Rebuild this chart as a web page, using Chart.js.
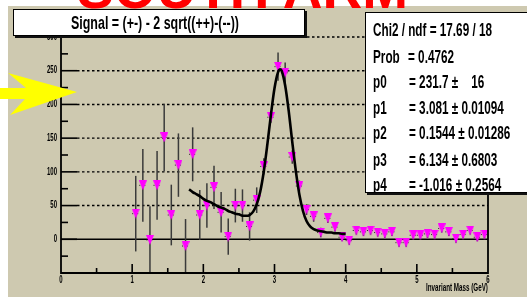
<!DOCTYPE html>
<html><head><meta charset="utf-8">
<script src="https://cdn.jsdelivr.net/npm/chart.js@4.4.1/dist/chart.umd.min.js"></script>
<style>
html,body{margin:0;padding:0;background:#fff;}
body{width:527px;height:297px;overflow:hidden;position:relative;font-family:"Liberation Sans",Arial,sans-serif;}
#bg{position:absolute;left:8px;top:6px;width:519px;height:291px;background:#CEC9B0;}
#red{position:absolute;left:77px;top:-38px;font:bold 55px "Liberation Sans",Arial,sans-serif;color:#f00;line-height:55px;white-space:nowrap;}
#c{position:absolute;left:0;top:0;}
.box{position:absolute;background:#fff;border:1px solid #000;box-shadow:2px 2px 0 #111;overflow:hidden;}
.t{position:absolute;white-space:pre;font-weight:bold;color:#000;transform-origin:0 50%;line-height:20px;font-size:18px;}
#title{left:13px;top:9px;width:290px;height:25px;}
#stats{left:365px;top:12px;width:200px;height:179px;}
#xtitle{position:absolute;right:39px;top:282px;font:bold 10px "Liberation Sans",Arial,sans-serif;line-height:12px;white-space:pre;transform-origin:100% 50%;color:#000;}
#arrow{position:absolute;left:0;top:0;}
</style></head>
<body>
<div id="bg"></div>
<div id="red">SOUTH ARM</div>
<canvas id="c" width="527" height="297"></canvas>
<div class="box" id="title"><div class="t" id="ttext" style="left:57px;top:2px;font-size:19px;line-height:22px;">Signal = (+-) - 2 sqrt((++)-(--))</div></div>
<div class="box" id="stats">
<div class="t s" id="chi" style="left:7px;top:7px;">Chi2 / ndf = 17.69 / 18</div>
<div class="t s" style="left:7px;top:34px;">Prob</div><div class="t s" style="left:42px;top:34px;">= 0.4762</div>
<div class="t s" style="left:7px;top:59px;">p0</div><div class="t s" style="left:43px;top:59px;">= 231.7 ±    16</div>
<div class="t s" style="left:7px;top:85px;">p1</div><div class="t s" style="left:43px;top:85px;">= 3.081 ± 0.01094</div>
<div class="t s" style="left:7px;top:110px;">p2</div><div class="t s" style="left:43px;top:110px;">= 0.1544 ± 0.01286</div>
<div class="t s" style="left:7px;top:137px;">p3</div><div class="t s" style="left:43px;top:137px;">= 6.134 ± 0.6803</div>
<div class="t s" style="left:7px;top:162px;">p4</div><div class="t s" style="left:43px;top:162px;">= -1.016 ± 0.2564</div>
</div>
<div id="xtitle">Invariant Mass (GeV)</div>
<svg id="arrow" width="90" height="130"><polygon points="0,88 26,88 8,73 77,92 10,115 25,99 0,99" fill="#FFFF00"/></svg>
<script>
// ---- data ----
const xBins = [1.05,1.15,1.25,1.35,1.45,1.55,1.65,1.75,1.85,1.95,2.05,2.15,2.25,2.35,2.45,2.55,2.65,2.75,2.85,2.95,3.05,3.15,3.25,3.35,3.45,3.55,3.65,3.75,3.85,3.95,4.05,4.15,4.25,4.35,4.45,4.55,4.65,4.75,4.85,4.95,5.05,5.15,5.25,5.35,5.45,5.55,5.65,5.75,5.85,5.95];
const signal = [38,80,-1,80,151,36,110,-10,126,36,50,77,40,4,50,50,19,58,108,181,256,247,122,79,44,34,10,31,18,3,-2,13,11,13,10,8,11,-5,-5,6,6,8,7,16,11,1,7,13,3,7];
const sigErr = [56,54,50,51,50,45,47,40,40,37,33,32,30,27,25,24,21,19,12,8,21,15,10,8,8,8,7,7,7,6,6,6,6,6,6,6,6,6,6,6,6,6,6,6,6,6,6,6,6,6];
const fitX = [1.80,1.85,1.90,1.95,2.00,2.05,2.10,2.15,2.20,2.25,2.30,2.35,2.40,2.45,2.50,2.55,2.60,2.65,2.70,2.75,2.80,2.85,2.90,2.95,3.00,3.05,3.08,3.10,3.15,3.20,3.25,3.30,3.35,3.40,3.45,3.50,3.55,3.60,3.65,3.70,3.75,3.80,3.85,3.90,3.95,4.00];
const fitY = [74,70,67,64,60,57,55,52,49,47,45,42,40,38,37,35,35,36,41,52,71,101,141,185,224,248,252,250,228,190,144,101,66,42,27,19,15,13,12,11,10,10,9,9,8,8];
const xTickVals = [0,1,2,3,4,5,6];
const xTickLabels = ['0','1','2','3','4','5','6'];
const yTickVals = [0,50,100,150,200,250,300];
const yTickLabels = ['0','50','100','150','200','250','300'];

// ---- text condensing (reference font is a narrow face) ----
function natW(el){return el.getBoundingClientRect().width;}
const tt=document.getElementById('ttext'); tt.style.transform='scaleX('+(168/natW(tt))+')';
const chi=document.getElementById('chi'); const s=119/natW(chi);
document.querySelectorAll('.s').forEach(e=>e.style.transform='scaleX('+s+')');
const xt=document.getElementById('xtitle'); xt.style.transform='scaleX('+(62/natW(xt))+')';

// ---- marker: narrow downward triangle ----
const mk=document.createElement('canvas'); mk.width=8; mk.height=10;
{const m=mk.getContext('2d'); m.fillStyle='#FF00FF'; m.beginPath(); m.moveTo(0,0); m.lineTo(8,0); m.lineTo(4,10); m.closePath(); m.fill();}

const FONT='bold 10px "Liberation Sans", Arial, sans-serif';
function seg(ctx,x1,y1,x2,y2){ctx.beginPath();ctx.moveTo(x1,y1);ctx.lineTo(x2,y2);ctx.stroke();}

const rootAxes={
  id:'rootAxes',
  beforeDatasetsDraw(chart){
    const ctx=chart.ctx, a=chart.chartArea, x=chart.scales.x, y=chart.scales.y;
    ctx.save();
    ctx.strokeStyle='#000'; ctx.lineWidth=1.4; ctx.setLineDash([2.5,2.5]);
    for(let v=50; v<=300; v+=50){ const py=y.getPixelForValue(v); seg(ctx,a.left+16,py,a.right,py); }
    ctx.setLineDash([]); ctx.lineWidth=1.5;
    const y0=y.getPixelForValue(0); seg(ctx,a.left,y0,a.right,y0);
    ctx.beginPath(); ctx.rect(a.left,a.top,a.right-a.left,a.bottom-a.top); ctx.clip();
    ctx.strokeStyle='#3a3a3a'; ctx.lineWidth=1.5;
    xBins.forEach((xv,i)=>{const px=x.getPixelForValue(xv); seg(ctx,px,y.getPixelForValue(signal[i]+sigErr[i]),px,y.getPixelForValue(signal[i]-sigErr[i]));});
    ctx.strokeStyle='#222'; ctx.lineWidth=1; ctx.setLineDash([1,1.5]);
    xBins.forEach((xv,i)=>{const py=y.getPixelForValue(signal[i]); seg(ctx,x.getPixelForValue(xv-0.05),py,x.getPixelForValue(xv+0.05),py);});
    ctx.restore();
  },
  afterDatasetsDraw(chart){
    const ctx=chart.ctx, a=chart.chartArea, x=chart.scales.x, y=chart.scales.y;
    ctx.save();
    ctx.strokeStyle='#000'; ctx.lineWidth=1.8;
    seg(ctx,a.left,a.top,a.left,a.bottom+1);
    seg(ctx,a.left,a.bottom,a.right,a.bottom);
    seg(ctx,a.right,a.top,a.right,a.bottom+1);
    ctx.lineWidth=1.6;
    for(let v=-25; v<300; v+=25){ const py=y.getPixelForValue(v); const major=(v%50===0); seg(ctx,a.left,py,a.left+(major?16:7),py); }
    for(let v=0.5; v<6; v+=0.5){ const px=x.getPixelForValue(v); const major=Math.abs(v-Math.round(v))<1e-6; seg(ctx,px,a.bottom,px,a.bottom-(major?9:5)); }
    ctx.fillStyle='#000'; ctx.font=FONT; ctx.textBaseline='middle';
    yTickVals.forEach((v,i)=>{ const py=y.getPixelForValue(v); ctx.save(); ctx.translate(a.left-4,py); ctx.scale(0.6,1); ctx.textAlign='right'; ctx.fillText(yTickLabels[i],0,0); ctx.restore(); });
    xTickVals.forEach((v,i)=>{ const px=x.getPixelForValue(v); ctx.save(); ctx.translate(px,a.bottom+7); ctx.scale(0.6,1); ctx.textAlign='center'; ctx.fillText(xTickLabels[i],0,0); ctx.restore(); });
    ctx.restore();
  }
};

new Chart(document.getElementById('c'),{
  type:'scatter',
  data:{datasets:[
    {label:'fit', data:fitX.map((v,i)=>({x:v,y:fitY[i]})), showLine:true, borderColor:'#000', borderWidth:2.6, pointRadius:0, cubicInterpolationMode:'monotone', fill:false},
    {label:'signal', data:xBins.map((v,i)=>({x:v,y:signal[i]})), pointStyle:mk, pointRadius:5, showLine:false}
  ]},
  options:{
    responsive:false, animation:false, devicePixelRatio:1,
    layout:{padding:{left:0,right:39,top:37,bottom:0}},
    plugins:{legend:{display:false},tooltip:{enabled:false},title:{display:false}},
    scales:{
      x:{type:'linear',min:0,max:6,grid:{display:false},border:{display:false},ticks:{display:false},afterFit(sc){sc.height=24;}},
      y:{type:'linear',min:-50,max:300,grid:{display:false},border:{display:false},ticks:{display:false},afterFit(sc){sc.width=61;}}
    }
  },
  plugins:[rootAxes]
});
</script>
</body></html>
